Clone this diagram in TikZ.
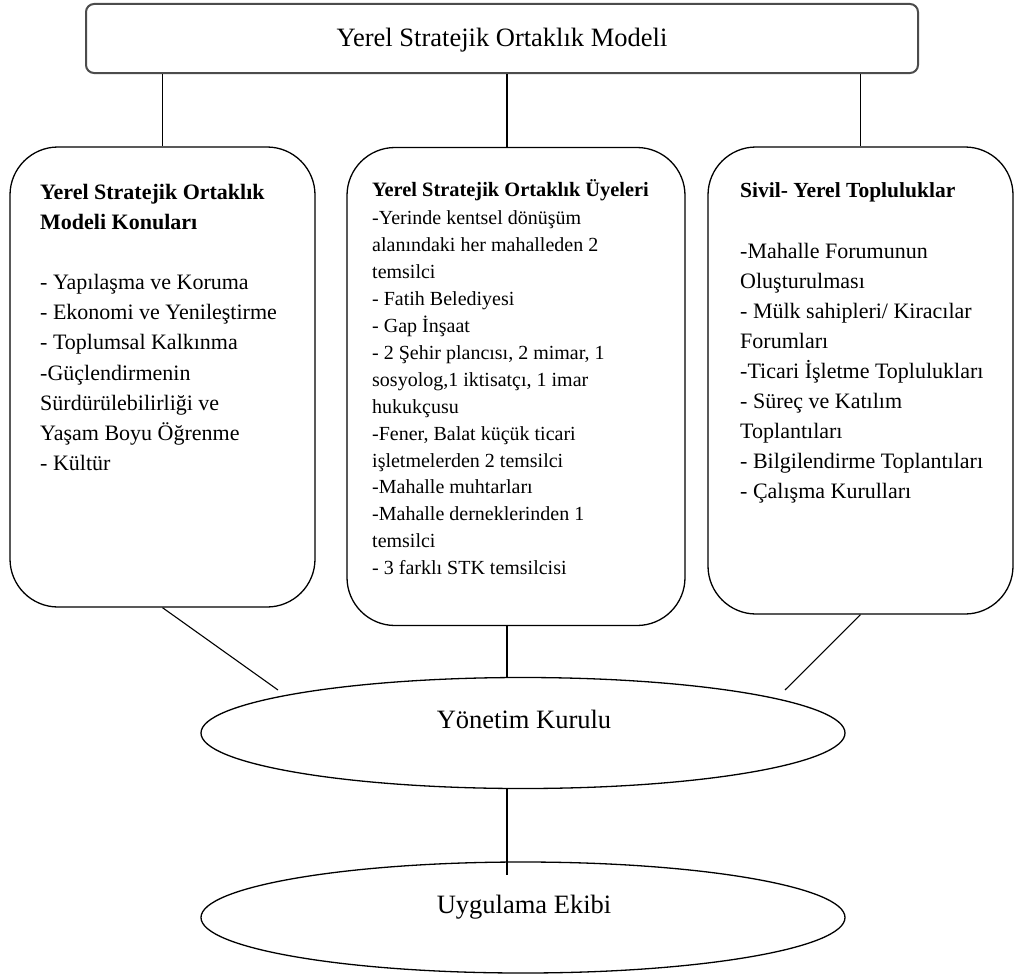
\documentclass[tikz,border=0pt]{standalone}
\usepackage{fontspec}
\setmainfont{Liberation Serif}
\usetikzlibrary{shapes.geometric,calc}
\begin{document}
\begin{tikzpicture}[x=1pt,y=-1pt,
  conn/.style={draw=black, line width=1.1pt},
  panel/.style={draw=black, line width=1.3pt, rounded corners=48pt, inner sep=0pt},
  oval/.style={ellipse, draw=black, line width=1.3pt, minimum width=644pt, minimum height=111pt, inner sep=0pt},
  txt/.style={inner sep=0pt, anchor=base west, align=left},
  bigtxt/.style={anchor=base, inner sep=0pt, font=\fontsize{26.5}{30}\selectfont}]
\useasboundingbox (0,0) rectangle (1016,974);
\fill[white] (0,0) rectangle (1016,974);

% top box
\node[draw=black!70, line width=2pt, rounded corners=8pt, minimum width=832pt, minimum height=69pt, inner sep=0pt] (top) at (502,38.5) {};
\node[bigtxt] (toptxt) at (502,46) {Yerel Stratejik Ortaklık Modeli};

% panels
\node[panel, minimum width=305pt, minimum height=460pt] (lbox) at (162.5,377) {};
\node[panel, minimum width=338pt, minimum height=478pt] (mbox) at (516,386.5) {};
\node[panel, minimum width=305pt, minimum height=467pt] (rbox) at (860.5,380.5) {};

\node[txt] (ltxt) at (40,199) {\parbox[t]{300pt}{\fontsize{22}{30.2}\selectfont
\textbf{Yerel Stratejik Ortaklık}\\
\textbf{Modeli Konuları}\\[30pt]
- Yapılaşma ve Koruma\\
- Ekonomi ve Yenileştirme\\
- Toplumsal Kalkınma\\
-Güçlendirmenin\\
Sürdürülebilirliği ve\\
Yaşam Boyu Öğrenme\\
- Kültür}};

\node[txt] (mtxt) at (372,196) {\parbox[t]{320pt}{\fontsize{20}{26.9}\selectfont
{\fontsize{20.4}{26.9}\selectfont\textbf{Yerel Stratejik Ortaklık Üyeleri}}\\[2pt]
-Yerinde kentsel dönüşüm\\
alanındaki her mahalleden 2\\
temsilci\\
- Fatih Belediyesi\\
- Gap İnşaat\\
- 2 Şehir plancısı, 2 mimar, 1\\
sosyolog,1 iktisatçı, 1 imar\\
hukukçusu\\
-Fener, Balat küçük ticari\\
işletmelerden 2 temsilci\\
-Mahalle muhtarları\\
-Mahalle derneklerinden 1\\
temsilci\\
- 3 farklı STK temsilcisi}};

\node[txt] (rtxt) at (740,197) {\parbox[t]{280pt}{\fontsize{22}{30}\selectfont
{\fontsize{21.5}{30}\selectfont\textbf{Sivil- Yerel Topluluklar}}\\[31pt]
-Mahalle Forumunun\\
Oluşturulması\\
- Mülk sahipleri/ Kiracılar\\
Forumları\\
-Ticari İşletme Toplulukları\\
- Süreç ve Katılım\\
Toplantıları\\
- Bilgilendirme Toplantıları\\
- Çalışma Kurulları}};

% ellipses
\node[oval] (yk) at (523,733) {};
\node[oval] (ue) at (523,917.5) {};
\node[bigtxt] (yktxt) at (524,728) {Yönetim Kurulu};
\node[bigtxt] (uetxt) at (524,913) {Uygulama Ekibi};

% connectors
\coordinate (mx) at (507,0);
\coordinate (lend) at (278,690);
\coordinate (rend) at (785,690);
\draw[conn] (top.south -| lbox.north) -- (lbox.north);
\draw[conn] (top.south -| mx) -- (mbox.north -| mx);
\draw[conn] (top.south -| rbox.north) -- (rbox.north);
\draw[conn] (mbox.south -| mx) -- (yk.north -| mx);
\draw[conn] (yk.south -| mx) -- ($(ue.north -| mx)+(0,14)$);
\draw[conn] (lbox.south) -- (lend);
\draw[conn] (rbox.south) -- (rend);
\end{tikzpicture}
\end{document}
